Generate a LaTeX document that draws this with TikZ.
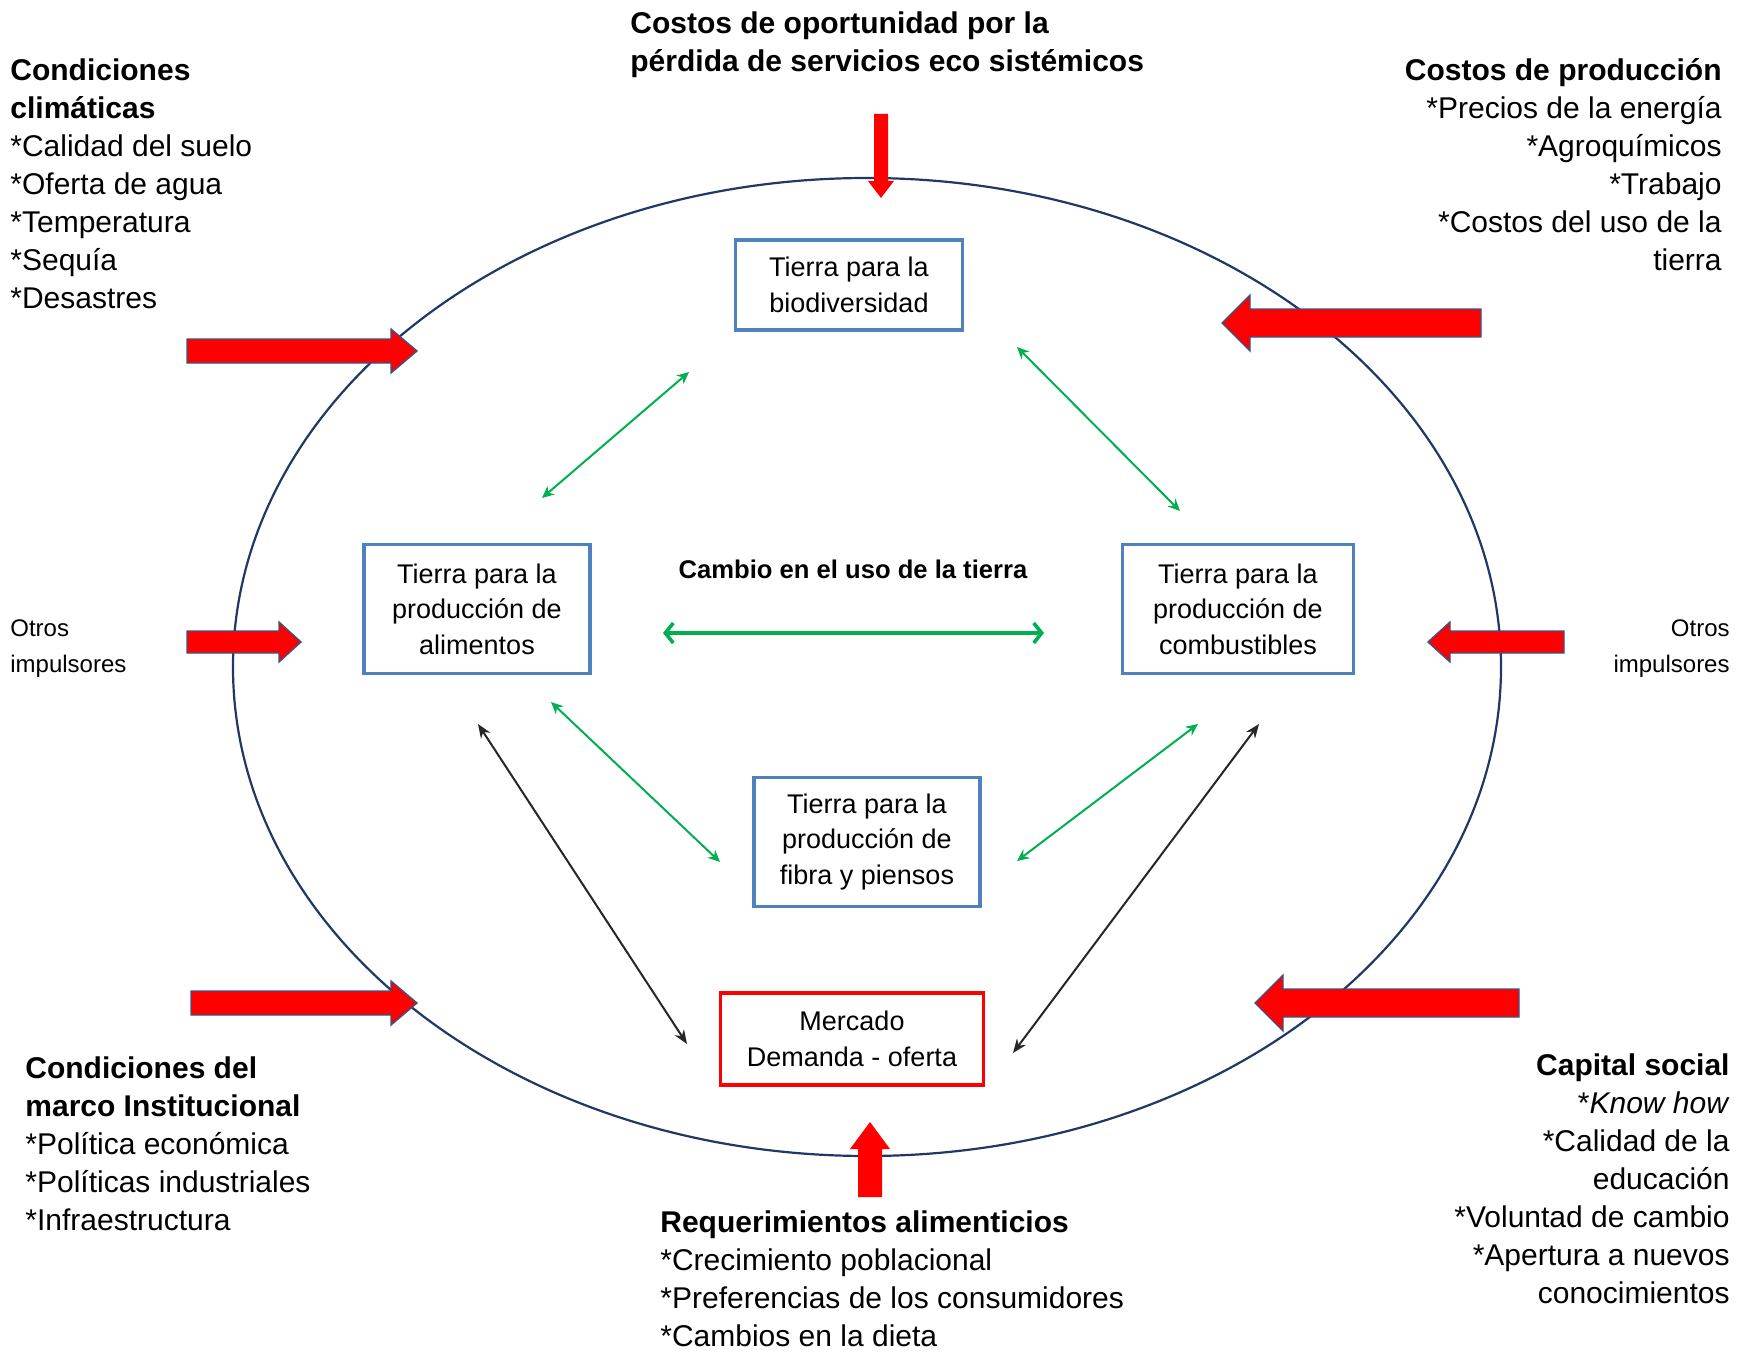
\documentclass[tikz,border=0pt]{standalone}
\usepackage{fontspec}
\setmainfont{Liberation Sans}
\usetikzlibrary{arrows.meta}

\definecolor{boxblue}{RGB}{79,129,189}
\definecolor{ringblue}{RGB}{32,56,100}
\definecolor{linkgreen}{RGB}{0,176,80}
\definecolor{pushred}{RGB}{255,0,0}
\definecolor{pushedge}{RGB}{62,82,130}

% block arrow: style, tail point, angle, length, shaft half-width, head half-width, head length
\newcommand\pusharrow[7]{%
  \path[#1, shift={#2}, rotate=#3]
    (0,-#5) -- (#4-#7,-#5) -- (#4-#7,-#6) -- (#4,0) -- (#4-#7,#6) -- (#4-#7,#5) -- (0,#5) -- cycle;}

\begin{document}
\begin{tikzpicture}[x=0.5pt,y=-0.5pt,
  landbox/.style={draw=boxblue, line width=1.6pt, align=center, inner sep=0pt,
    font=\fontsize{13.5pt}{17.75pt}\selectfont},
  marketbox/.style={draw=pushred, line width=1.6pt, align=center, inner sep=0pt,
    font=\fontsize{13.5pt}{17.75pt}\selectfont},
  driver/.style={inner sep=0pt, font=\fontsize{15pt}{19pt}\selectfont},
  minordriver/.style={inner sep=0pt, font=\fontsize{12pt}{18pt}\selectfont},
  glink/.style={draw=linkgreen, line width=1pt, {Stealth[length=6pt,width=5.5pt]}-{Stealth[length=6pt,width=5.5pt]}},
  gmain/.style={draw=linkgreen, line width=1.8pt, {Straight Barb[length=4pt,width=10pt]}-{Straight Barb[length=4pt,width=10pt]}},
  klink/.style={draw=black!85, line width=1pt, {Stealth[length=7pt,width=5.5pt]}-{Stealth[length=7pt,width=5.5pt]}},
  pushside/.style={fill=pushred, draw=pushedge, line width=0.7pt, line join=miter},
  pushflat/.style={fill=pushred}
]
\useasboundingbox (0,0) rectangle (1742,1354);
\fill[white] (0,0) rectangle (1742,1354);

% outer ring of the land-use system
\draw[ringblue, line width=1.1pt] (867,667) ellipse [x radius=634, y radius=489];

% land-use boxes
\node[landbox, minimum width=113.5pt, minimum height=45pt] (bio) at (849,285)
  {Tierra para la\\biodiversidad};
\node[landbox, minimum width=113pt, minimum height=64.5pt] (alim) at (477,609)
  {Tierra para la\\producción de\\alimentos};
\node[landbox, minimum width=115.5pt, minimum height=64.5pt] (comb) at (1238,609)
  {Tierra para la\\producción de\\combustibles};
\node[landbox, minimum width=113pt, minimum height=64.5pt] (fibra) at (867,842)
  {Tierra para la\\producción de\\fibra y piensos};
\node[marketbox, minimum width=131.5pt, minimum height=46pt] (merc) at (852,1039)
  {Mercado\\Demanda - oferta};

\node[inner sep=0pt, font=\fontsize{12.8pt}{16pt}\selectfont\bfseries] (cambio) at (853,569)
  {Cambio en el uso de la tierra};

% connector end points
\coordinate (bioA) at (689,372);   \coordinate (alimA) at (542,498);
\coordinate (bioB) at (1017,347);  \coordinate (combA) at (1180,511);
\coordinate (alimB) at (663,633);  \coordinate (combB) at (1044,633);
\coordinate (alimC) at (551,702);  \coordinate (fibraA) at (720,862);
\coordinate (combC) at (1198,724); \coordinate (fibraB) at (1017,861);
\coordinate (alimD) at (478,724);  \coordinate (mercA) at (687,1044);
\coordinate (combD) at (1259,724); \coordinate (mercB) at (1013,1053);

\draw[glink] (bioA) -- (alimA);
\draw[glink] (bioB) -- (combA);
\draw[gmain] (alimB) -- (combB);
\draw[glink] (alimC) -- (fibraA);
\draw[glink] (combC) -- (fibraB);
\draw[klink] (alimD) -- (mercA);
\draw[klink] (combD) -- (mercB);

% external drivers pushing on the system
\pusharrow{pushside}{(187,351)}{0}{230}{12}{22}{26}
\pusharrow{pushside}{(191,1003)}{0}{226}{12}{22}{26}
\pusharrow{pushside}{(187,642)}{0}{114}{11}{20}{22}
\pusharrow{pushside}{(1564,642)}{180}{136}{11}{20}{22}
\pusharrow{pushside}{(1481,323)}{180}{259}{14}{28}{28}
\pusharrow{pushside}{(1519,1003)}{180}{264}{14}{28}{28}
\pusharrow{pushflat}{(881,114)}{-90}{84}{7}{13}{17}
\pusharrow{pushflat}{(870,1197)}{90}{75}{12}{20}{27}

% driver texts
\node[driver, anchor=north west, align=left] (clima) at (10,58)
  {\textbf{Condiciones}\\\textbf{climáticas}\\{}*Calidad del suelo\\{}*Oferta de agua\\{}*Temperatura\\{}*Sequía\\{}*Desastres};
\node[driver, anchor=north west, align=left] (oport) at (630,11)
  {\textbf{Costos de oportunidad por la}\\\textbf{pérdida de servicios eco sistémicos}};
\node[driver, anchor=north east, align=right] (prod) at (1722,58)
  {\textbf{Costos de producción}\\{}*Precios de la energía\\{}*Agroquímicos\\{}*Trabajo\\{}*Costos del uso de la\\tierra};
\node[minordriver, anchor=north west, align=left] (otrosI) at (10,619)
  {Otros\\impulsores};
\node[minordriver, anchor=north east, align=right] (otrosD) at (1730,619)
  {Otros\\impulsores};
\node[driver, anchor=north west, align=left] (instit) at (25,1056)
  {\textbf{Condiciones del}\\\textbf{marco Institucional}\\{}*Política económica\\{}*Políticas industriales\\{}*Infraestructura};
\node[driver, anchor=north west, align=left] (requer) at (660,1210)
  {\textbf{Requerimientos alimenticios}\\{}*Crecimiento poblacional\\{}*Preferencias de los consumidores\\{}*Cambios en la dieta};
\node[driver, anchor=north east, align=right] (capital) at (1730,1053)
  {\textbf{Capital social}\\{}*\textit{Know how}\\{}*Calidad de la\\educación\\{}*Voluntad de cambio\\{}*Apertura a nuevos\\conocimientos};
\end{tikzpicture}
\end{document}
